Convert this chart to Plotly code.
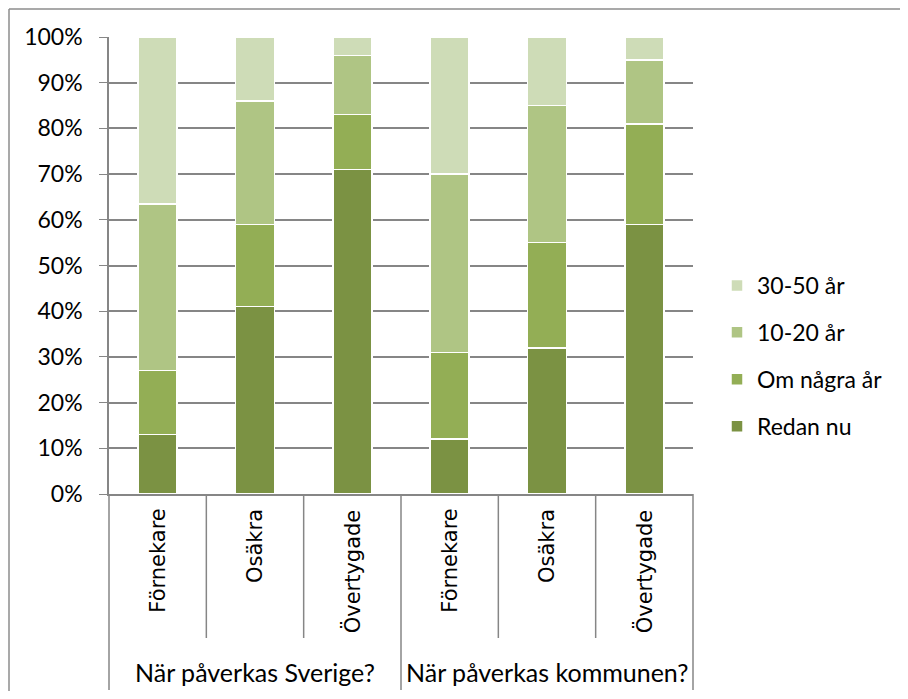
import plotly.graph_objects as go

groups = ["När påverkas Sverige?", "När påverkas kommunen?"]
subcats = ["Förnekare", "Osäkra", "Övertygade"]
series_names = ["Redan nu", "Om några år", "10-20 år", "30-50 år"]
redan_nu = [13, 41, 71, 12, 32, 59]
om_nagra_ar = [14, 18, 12, 19, 23, 22]
tio_tjugo = [36.5, 27, 13, 39, 30, 14]
trettio_femtio = [36.5, 14, 4, 30, 15, 5]
y_ticks = [0, 10, 20, 30, 40, 50, 60, 70, 80, 90, 100]

colors = ["#7B9243", "#93AE55", "#AFC584", "#CEDCB7"]
series_values = [redan_nu, om_nagra_ar, tio_tjugo, trettio_femtio]

cat_keys = [f"{g}|{s}" for g in groups for s in subcats]

OFF = 8  # page body margin
W, H = 908 - 2 * OFF, 699 - 2 * OFF
L, R, T, B = 109 - OFF, 693 - OFF, 37 - OFF, 494 - OFF
pw, ph = R - L, B - T

def px_x(p):
    return (p - OFF - L) / pw

def px_y(p):
    return (B - (p - OFF)) / ph

fig = go.Figure()
n_series = len(series_names)
for idx, (name, vals, col) in enumerate(zip(series_names, series_values, colors)):
    fig.add_trace(go.Bar(
        x=cat_keys, y=vals, name=name, legendgroup=name,
        legendrank=n_series - idx,
        marker=dict(color=col, line=dict(color="white", width=1.5)),
    ))

font_main = "Lato, 'Liberation Sans', sans-serif"

fig.update_layout(
    width=W, height=H,
    margin=dict(l=L, r=W - R, t=T, b=H - B),
    barmode="stack",
    bargap=0.6,
    plot_bgcolor="white",
    paper_bgcolor="white",
    font=dict(family=font_main, size=23, color="#000000"),
    showlegend=True,
    legend=dict(
        traceorder="grouped",
        x=px_x(717), xanchor="left",
        y=px_y(264), yanchor="top",
        font=dict(family=font_main, size=23, color="#000000"),
        tracegroupgap=14,
        bgcolor="rgba(0,0,0,0)",
    ),
    xaxis=dict(
        type="category",
        showticklabels=False,
        showgrid=False,
        showline=True, linecolor="#868686", linewidth=1.5,
        ticks="", zeroline=False,
    ),
    yaxis=dict(
        range=[0, 100],
        tickvals=y_ticks,
        ticktext=[f"{v}%" for v in y_ticks],
        showgrid=True, gridcolor="#868686", gridwidth=1.5,
        showline=True, linecolor="#868686", linewidth=1.5,
        ticks="outside", ticklen=8, tickcolor="#868686",
        ticklabelstandoff=12,
        zeroline=False,
        tickfont=dict(family=font_main, size=23),
    ),
)

shapes = []
n = len(cat_keys)
for i in range(n + 1):
    outer = i % len(subcats) == 0
    y_end = 690 if outer else 638
    shapes.append(dict(
        type="line", xref="paper", yref="paper",
        x0=i / n, x1=i / n, y0=0, y1=px_y(y_end),
        line=dict(color="#868686", width=1.5),
    ))
# Chart-area border (top and left edges visible in the frame)
shapes.append(dict(
    type="line", xref="paper", yref="paper",
    x0=px_x(9), x1=px_x(908), y0=px_y(9), y1=px_y(9),
    line=dict(color="#8C8C8C", width=1.5), layer="below",
))
shapes.append(dict(
    type="line", xref="paper", yref="paper",
    x0=px_x(9), x1=px_x(9), y0=px_y(9), y1=px_y(699),
    line=dict(color="#8C8C8C", width=1.5), layer="below",
))
fig.update_layout(shapes=shapes)

annotations = []
for k, s in zip(cat_keys, [s for g in groups for s in subcats]):
    annotations.append(dict(
        x=k, xref="x", y=px_y(507), yref="paper",
        text=s, textangle=-90, showarrow=False,
        xanchor="center", yanchor="top",
        font=dict(family="'DejaVu Sans', sans-serif", size=21, color="#000000"),
    ))
for gi, g in enumerate(groups):
    annotations.append(dict(
        x=(gi + 0.5) / len(groups), xref="paper", y=px_y(672), yref="paper",
        text=g, showarrow=False, xanchor="center", yanchor="middle",
        font=dict(family=font_main, size=25, color="#000000"),
    ))
fig.update_layout(annotations=annotations)

fig.write_html("out.html")
